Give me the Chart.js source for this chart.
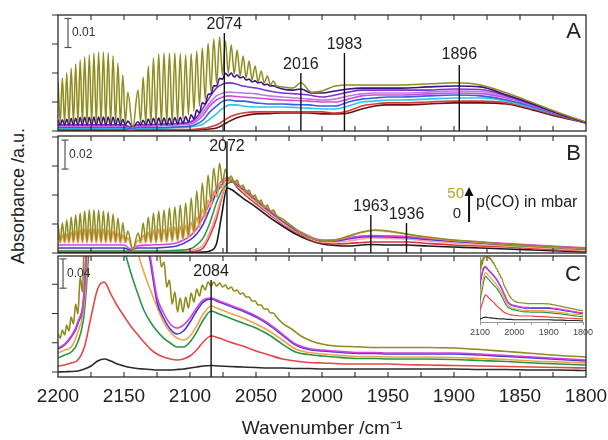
<!DOCTYPE html>
<html>
<head>
<meta charset="utf-8">
<title>IR spectra of adsorbed CO</title>
<script src="https://cdn.jsdelivr.net/npm/chart.js@4"></script>
<style>
  html, body { margin: 0; padding: 0; background: #fff; }
  body { width: 608px; height: 440px; position: relative; overflow: hidden; font-family: "Liberation Sans", Arial, sans-serif; }
  canvas { position: absolute; left: 0; }
  #ylabel { position: absolute; left: 18px; top: 196px; transform: translate(-50%, -50%) rotate(-90deg);
            font-size: 18px; color: #222; white-space: nowrap; }
</style>
</head>
<body>
<div id="ylabel">Absorbance /a.u.</div>
<canvas id="chartA" width="640" height="140" style="top:0px"></canvas>
<canvas id="chartB" width="640" height="130" style="top:130px"></canvas>
<canvas id="chartC" width="640" height="190" style="top:250px"></canvas>
<canvas id="inset" width="160" height="95" style="left:440px;top:250px"></canvas>
<script>
// all absorbance values are in 10^-3 units

// wavenumber grids (cm-1)
const wnA = [2200, 2195, 2190, 2185, 2180, 2175, 2170, 2165, 2160, 2155, 2150, 2145, 2140, 2130, 2120, 2110,
  2100, 2095, 2090, 2085, 2080, 2075, 2070, 2065, 2060, 2050, 2040, 2030, 2020, 2010, 2000, 1990, 1980,
  1970, 1960, 1950, 1940, 1920, 1900, 1880, 1860, 1840, 1820, 1800];
const wnB = [2200, 2190, 2180, 2170, 2160, 2150, 2145, 2140, 2130, 2120, 2110, 2100, 2095, 2090, 2085, 2080,
  2076, 2072, 2068, 2064, 2060, 2050, 2040, 2030, 2020, 2010, 2000, 1990, 1980, 1970, 1963, 1950, 1936,
  1920, 1900, 1880, 1860, 1840, 1820, 1800];
const wnC = [2200, 2195, 2190, 2185, 2180, 2175, 2170, 2165, 2160, 2155, 2150, 2145, 2140, 2135, 2130, 2125,
  2120, 2115, 2110, 2105, 2100, 2095, 2090, 2084, 2078, 2070, 2060, 2050, 2040, 2030, 2020, 2010, 2000,
  1990, 1980, 1970, 1960, 1950, 1940, 1920, 1900, 1880, 1860, 1840, 1820, 1800];
// gas phase CO lines (R branch, band centre, P branch), line then valley
const wnGas = [
  2199.9, 2198.3, 2196.7, 2195.0, 2193.4, 2191.7, 2190.0, 2188.3, 2186.6, 2184.9, 2183.2, 2181.5, 2179.8,
  2178.0, 2176.3, 2174.5, 2172.8, 2171.0, 2169.2, 2167.4, 2165.6, 2163.8, 2162.0, 2160.1, 2158.3, 2156.4,
  2154.6, 2152.7, 2150.9, 2149.0, 2147.1,
  2143.3,
  2139.4, 2137.4, 2135.5, 2133.5, 2131.6, 2129.6, 2127.7, 2125.7, 2123.7, 2121.7, 2119.7, 2117.6, 2115.6,
  2113.5, 2111.5, 2109.4, 2107.4, 2105.3, 2103.3, 2101.2, 2099.1, 2097.0, 2094.9, 2092.8, 2090.7, 2088.5,
  2086.3, 2084.2, 2082.0, 2079.8, 2077.6, 2075.4, 2073.2, 2071.0, 2068.8, 2066.5, 2064.3, 2062.0, 2059.8,
  2057.5, 2055.2, 2053.0, 2050.7, 2048.4, 2046.1, 2043.8, 2041.4, 2039.1, 2036.8, 2034.5];
const wnTail = [2030, 2022, 2016, 2008, 2000, 1990, 1980, 1970, 1960, 1950, 1940, 1920, 1900, 1880, 1860, 1840, 1820, 1800];

const xTickLabels = [2200, 2150, 2100, 2050, 2000, 1950, 1900, 1850, 1800];
const xTickMarks = [2175, 2150, 2125, 2100, 2075, 2050, 2025, 2000, 1975, 1950, 1925, 1900, 1875, 1850, 1825];
const insetTicks = [2100, 2050, 2000, 1950, 1900, 1850, 1800];
const yTicksA = [0, 10, 20, 30, 40];
const yTicksB = [0, 20, 40, 60, 80];
const yTicksC = [0, 40, 80, 120];

// ---- panel A ----
const aOliveGas = [
  16.9, 2.8, 18.3, 2.8, 20.0, 2.8, 21.7, 2.8, 23.1, 2.8, 24.5, 2.8, 25.5, 2.8, 26.2, 2.8, 26.9, 2.8, 27.2, 2.8,
  27.2, 2.8, 26.9, 2.8, 25.9, 2.8, 23.4, 2.8, 19.3, 2.8, 13.4,
  1.0,
  14.1, 2.8, 18.6, 2.8, 22.4, 2.8, 25.2, 2.8, 26.6, 2.8, 26.9, 2.8, 26.9, 3.1, 26.9, 3.4, 26.6, 4.1, 26.2, 5.5,
  26.6, 6.9, 27.6, 8.6, 28.6, 11.0, 30.3, 13.8, 31.7, 16.6, 32.4, 19.3, 31.0, 20.0, 29.7, 19.7, 27.9, 19.0,
  25.9, 18.3, 24.1, 17.6, 22.4, 16.9, 20.7, 16.6, 19.0, 15.9, 17.2, 15.5];
const aOliveTail = [15.2, 14.8, 16.6, 13.4, 13.8, 15.5, 15.9, 15.9, 15.9, 15.9, 15.9, 16.2, 16.6, 15.9, 13.1, 9.7, 6.2, 3.1];
const aNavyGas = [
  3.8, 2.1, 3.9, 2.1, 4.1, 2.1, 4.3, 2.1, 4.4, 2.1, 4.6, 2.1, 4.7, 2.1, 4.7, 2.1, 4.8, 2.1, 4.8, 2.1,
  4.8, 2.1, 4.8, 2.1, 4.7, 2.1, 4.4, 2.1, 4.0, 2.1, 3.4,
  1.4,
  3.2, 2.1, 3.7, 2.1, 4.1, 2.1, 4.4, 2.1, 4.5, 2.1, 4.5, 2.1, 4.5, 2.2, 4.6, 2.4, 4.7, 2.6, 5.0, 3.1,
  5.6, 4.1, 7.2, 6.2, 9.7, 9.3, 12.6, 12.8, 15.6, 15.5, 18.2, 17.9, 19.9, 19.0, 20.0, 18.6, 19.3, 18.3,
  18.7, 17.6, 17.9, 16.9, 17.3, 16.6, 16.8, 15.9, 16.1, 15.5, 15.6, 15.2];
const aNavyTail = [14.5, 14.1, 14.5, 13.1, 13.1, 13.8, 14.5, 14.8, 14.8, 14.8, 14.8, 15.2, 15.5, 15.2, 12.4, 9.3, 5.9, 2.9];
const aViolet = [2.1, 2.1, 2.1, 2.1, 2.1, 2.1, 2.1, 2.1, 2.1, 2.1, 2.1, 1.4, 2.1, 2.2, 2.4, 2.6, 3.1, 4.8, 7.9,
  11.7, 14.8, 16.2, 16.6, 16.2, 15.5, 14.8, 13.8, 13.1, 12.8, 12.4, 11.7, 12.4, 13.4, 14.1, 14.1, 14.1, 14.1,
  14.1, 14.5, 14.3, 12.1, 9.0, 5.9, 2.9];
const aLilac = [1.9, 1.9, 1.9, 1.9, 1.9, 1.9, 1.9, 1.9, 1.9, 1.9, 1.9, 1.4, 1.9, 2.0, 2.2, 2.4, 2.8, 4.1, 6.6,
  9.7, 12.1, 13.1, 13.4, 13.3, 13.1, 12.8, 12.1, 11.7, 11.4, 11.0, 10.7, 11.0, 12.1, 12.8, 13.1, 13.1, 13.1,
  13.4, 13.8, 13.6, 11.7, 8.8, 5.9, 2.9];
const aMagenta = [1.7, 1.7, 1.7, 1.7, 1.7, 1.7, 1.7, 1.7, 1.7, 1.7, 1.7, 1.2, 1.6, 1.7, 1.9, 2.1, 2.4, 3.4, 5.5,
  8.6, 10.7, 11.7, 12.1, 11.9, 11.7, 11.4, 11.0, 10.7, 10.5, 10.3, 10.0, 10.0, 11.0, 12.1, 12.4, 12.4, 12.4,
  12.8, 13.1, 12.9, 11.4, 8.6, 5.7, 2.9];
const aBlue = [1.2, 1.2, 1.2, 1.2, 1.2, 1.2, 1.2, 1.2, 1.2, 1.2, 1.2, 0.9, 1.2, 1.2, 1.2, 1.4, 1.7, 2.4, 3.8,
  6.6, 8.6, 10.3, 10.7, 10.3, 10.3, 9.7, 9.3, 9.3, 9.1, 9.0, 8.6, 8.6, 10.0, 11.0, 11.4, 11.7, 11.7,
  12.1, 12.4, 12.1, 10.7, 8.3, 5.5, 2.8];
const aCyan = [1.0, 1.0, 1.0, 1.0, 1.0, 1.0, 1.0, 1.0, 1.0, 1.0, 1.0, 0.7, 1.0, 1.0, 1.0, 1.2, 1.4, 1.7, 2.4,
  4.1, 5.9, 7.9, 9.0, 9.0, 8.6, 8.3, 8.3, 8.3, 8.1, 7.9, 7.6, 7.6, 8.6, 10.0, 10.3, 10.7, 10.7,
  11.0, 11.4, 11.4, 10.3, 7.9, 5.5, 2.8];
const aRed = [0.5, 0.5, 0.5, 0.5, 0.5, 0.5, 0.5, 0.5, 0.5, 0.5, 0.5, 0.3, 0.5, 0.5, 0.5, 0.5, 0.5, 0.7, 0.9,
  1.4, 2.1, 3.4, 4.8, 5.7, 6.2, 6.6, 6.6, 6.6, 6.6, 6.6, 6.6, 6.2, 6.9, 8.6, 9.3, 9.7, 9.7,
  10.0, 10.3, 10.3, 9.7, 7.6, 5.2, 2.8];
const aDark = [0.3, 0.3, 0.3, 0.3, 0.3, 0.3, 0.3, 0.3, 0.3, 0.3, 0.3, 0.3, 0.3, 0.3, 0.3, 0.3, 0.3, 0.3, 0.5,
  0.7, 1.0, 2.1, 3.4, 4.5, 5.2, 5.9, 6.0, 6.2, 6.2, 6.2, 5.9, 5.9, 6.2, 7.6, 8.6, 9.0, 9.0,
  9.3, 9.7, 9.7, 9.3, 7.2, 4.8, 2.8];
const bandsA = [2074, 2016, 1983, 1896];
const bandTopsA = [33.8, 20.0, 26.9, 22.8];

// ---- panel B ----
const bOliveGas = [
  19.3, 8.3, 20.7, 8.3, 22.8, 8.3, 24.8, 8.3, 26.2, 8.3, 27.6, 8.3, 29.0, 8.3, 29.7, 8.3, 29.7, 8.3, 29.7, 8.3,
  29.0, 8.3, 28.3, 8.3, 26.9, 8.3, 24.2, 8.3, 20.7, 8.3, 15.2,
  2.1,
  13.8, 8.3, 20.7, 8.3, 24.8, 8.3, 27.6, 8.3, 29.0, 8.6, 29.7, 9.0, 31.1, 9.3, 31.7, 9.7, 33.1, 10.4, 34.5, 12.4,
  38.0, 15.2, 42.8, 20.7, 48.3, 27.6, 53.8, 35.9, 58.7, 42.8, 62.1, 48.3, 58.0, 50.4, 53.1, 48.3, 50.4, 44.9,
  46.9, 41.4, 43.5, 38.0, 40.0, 34.5, 36.6, 31.1, 33.1, 28.3, 29.7, 25.5];
const bOliveTail = [23.5, 17.9, 13.8, 10.4, 8.3, 9.0, 11.7, 14.5, 15.9, 15.2, 13.8, 11.0, 9.0, 7.6, 6.2, 5.2, 4.1, 3.1];
const bOrangeGas = [
  11.7, 6.9, 12.4, 6.9, 13.1, 6.9, 14.5, 6.9, 15.2, 6.9, 15.9, 6.9, 16.6, 6.9, 16.6, 6.9, 16.6, 6.9, 16.6, 6.9,
  16.6, 6.9, 15.9, 6.9, 15.2, 6.9, 13.8, 6.9, 12.4, 6.9, 10.4,
  2.1,
  9.0, 6.9, 12.4, 6.9, 14.5, 6.9, 15.9, 6.9, 16.6, 7.2, 16.6, 7.6, 17.3, 7.9, 17.9, 8.3, 18.6, 9.0, 19.3, 10.4,
  21.4, 13.1, 24.8, 17.9, 30.4, 24.2, 36.6, 31.7, 42.8, 38.6, 48.3, 44.2, 51.1, 49.0, 51.1, 48.3, 49.0, 45.5,
  45.5, 42.1, 42.1, 38.6, 38.6, 35.2, 35.2, 31.7, 31.7, 29.0, 28.3, 26.2];
const bOrangeTail = [22.8, 17.9, 13.8, 10.4, 8.3, 9.0, 11.4, 14.1, 15.5, 14.8, 13.5, 10.7, 8.6, 7.2, 5.9, 4.8, 3.8, 2.8];
const bMagenta = [5.5, 5.5, 5.5, 5.5, 5.5, 5.5, 2.8, 4.8, 5.5, 5.9, 6.9, 11.7, 16.6, 24.8, 34.5, 44.2, 49.7, 51.8,
  50.4, 47.6, 44.9, 37.3, 29.7, 22.8, 16.6, 11.7, 9.0, 9.0, 10.4, 11.7, 12.1, 11.7, 11.4, 10.0, 8.6, 7.6, 6.6,
  5.5, 4.5, 3.5];
const bBlue = [3.4, 3.4, 3.4, 3.4, 3.4, 3.4, 2.1, 3.4, 3.4, 3.8, 4.8, 9.0, 13.1, 20.0, 30.4, 41.4, 46.9, 50.4,
  49.7, 46.9, 44.2, 36.6, 29.0, 22.1, 15.9, 11.0, 8.3, 8.3, 9.7, 11.0, 11.4, 11.0, 10.7, 9.3, 7.9, 6.9, 5.9,
  4.8, 3.8, 2.8];
const bGreen = [1.4, 1.4, 1.4, 1.4, 1.4, 1.4, 1.4, 1.4, 1.4, 1.4, 1.9, 2.8, 5.5, 10.4, 20.7, 34.5, 42.8, 47.6,
  49.0, 46.9, 44.2, 36.6, 29.0, 22.1, 15.9, 11.0, 8.3, 9.0, 10.4, 11.4, 11.7, 11.7, 11.0, 9.7, 8.3, 6.9, 5.5,
  4.5, 3.5, 2.4];
const bPink = [1.7, 1.7, 1.7, 1.7, 1.7, 1.7, 1.7, 1.7, 1.7, 1.7, 1.7, 1.9, 2.8, 5.5, 14.5, 26.9, 39.3, 48.3,
  49.0, 46.2, 42.8, 35.2, 27.6, 20.7, 15.2, 10.4, 7.6, 7.6, 8.3, 9.7, 10.4, 10.0, 9.7, 8.3, 6.9, 5.9, 4.8,
  3.8, 2.8, 1.7];
const bRed = [1.2, 1.2, 1.2, 1.2, 1.2, 1.2, 1.2, 1.2, 1.2, 1.2, 1.2, 1.2, 1.4, 3.4, 11.7, 23.5, 38.0, 48.3,
  49.0, 44.9, 41.4, 33.8, 26.9, 20.0, 14.5, 9.7, 6.9, 6.2, 6.6, 7.2, 7.6, 7.6, 7.6, 6.6, 5.5, 4.8, 4.1,
  3.1, 2.1, 1.4];
const bBlack = [0.5, 0.5, 0.5, 0.5, 0.5, 0.5, 0.5, 0.5, 0.5, 0.5, 0.5, 0.5, 0.5, 0.6, 1.4, 6.2, 26.2, 44.8,
  43.5, 40.7, 37.9, 31.7, 24.8, 18.6, 13.1, 9.0, 6.2, 5.2, 4.8, 5.5, 5.9, 5.5, 5.5, 4.8, 4.1, 3.4, 2.8,
  2.1, 1.4, 0.7];
const bandsB = [2072, 1963, 1936];
const bandTopsB = [77, 26.2, 20.7];

// ---- panel C ----
const cOliveGas = [
  51.9, 46.4, 57.4, 50.5, 64.2, 56.0, 75.1, 65.6, 92.9, 79.2, 129.8, 109.3, 191.2, 163.9, 300.5, 259.5,
  382.5, 341.5, 450.8, 409.8, 478.1, 437.1, 478.1, 437.1, 464.4, 423.5, 450.8, 409.8, 437.1, 396.2, 409.8,
  355.2,
  382.5, 341.5, 355.2, 307.4, 321.0, 273.2, 232.2, 191.2, 177.6, 143.4, 150.3, 116.1, 125.7, 92.9, 109.3, 82.0,
  101.1, 82.0, 102.5, 87.4, 107.9, 95.6, 113.4, 103.8, 118.8, 112.0, 122.9, 117.5, 122.9, 117.5, 121.6, 116.1,
  118.8, 113.4, 116.1, 110.6, 112.0, 106.5, 107.9, 102.5, 102.5, 97.0, 97.0, 91.5, 91.5, 86.1, 86.1, 80.6,
  80.6, 75.1];
const cOliveTail = [66.9, 57.4, 49.2, 42.4, 38.2, 35.5, 34.8, 34.2, 33.5, 33.5, 33.5, 33.5, 32.8, 30.7, 28.0, 25.3, 22.5, 20.5];
const cMagenta = [32.8, 38.2, 49.2, 68.3, 116.1, 341.5, 409.8, 409.8, 382.5, 355.2, 327.8, 286.9, 245.9, 204.9,
  157.1, 102.5, 80.6, 65.6, 60.1, 64.2, 73.8, 87.4, 98.4, 101.1, 97.0, 91.5, 84.7, 76.5, 65.6, 51.9, 38.2,
  32.1, 30.1, 28.7, 27.3, 26.6, 26.6, 26.0, 26.0, 26.0, 26.0, 24.6, 22.5, 20.5, 18.4, 16.4];
const cBlue = [31.4, 36.9, 47.8, 65.6, 113.4, 338.8, 407.1, 407.1, 379.7, 352.4, 325.1, 284.1, 243.1, 202.2,
  150.3, 95.6, 73.8, 58.7, 51.9, 56.0, 68.3, 83.3, 95.6, 99.7, 95.6, 90.2, 83.3, 75.1, 64.2, 50.5, 36.9,
  30.7, 28.7, 27.3, 26.0, 25.3, 25.3, 24.6, 24.6, 24.6, 24.6, 23.2, 21.2, 19.1, 17.1, 15.0];
const cOrange = [26.0, 30.1, 34.2, 54.6, 95.6, 245.9, 300.5, 314.2, 300.5, 273.2, 245.9, 211.7, 166.7, 136.6,
  112.0, 88.8, 68.3, 54.6, 46.4, 43.7, 49.2, 62.8, 79.2, 90.2, 86.1, 80.6, 73.8, 65.6, 56.0, 43.7, 31.4,
  26.6, 24.6, 23.2, 21.9, 21.2, 21.2, 20.5, 20.5, 20.5, 19.8, 18.4, 17.1, 15.0, 13.7, 12.3];
const cGreen = [19.1, 23.2, 27.3, 41.0, 82.0, 204.9, 259.5, 273.2, 259.5, 225.4, 170.8, 136.6, 109.3, 84.7,
  68.3, 56.0, 46.4, 39.6, 34.2, 34.2, 41.0, 54.6, 71.0, 83.3, 79.2, 73.8, 66.9, 60.1, 50.5, 38.2, 27.3,
  23.9, 21.9, 20.5, 19.1, 18.4, 18.4, 17.8, 17.8, 17.8, 17.1, 15.7, 14.3, 12.3, 10.9, 9.6];
const cRed = [8.2, 9.6, 12.3, 16.4, 34.2, 75.1, 113.4, 122.9, 106.5, 90.2, 76.5, 62.8, 51.9, 41.0, 31.4, 24.6,
  20.5, 17.8, 16.4, 17.8, 21.9, 30.1, 41.0, 49.2, 46.4, 41.0, 35.5, 28.7, 23.2, 17.8, 15.0, 13.0, 12.3,
  11.6, 10.9, 10.9, 10.9, 10.9, 10.2, 9.6, 8.9, 8.2, 7.5, 6.8, 6.1, 5.5];
const cBlack = [0, 0.4, 0.7, 1.4, 4.1, 8.2, 15.0, 17.8, 15.0, 10.9, 8.2, 6.1, 4.8, 4.1, 3.4, 2.7, 2.7, 2.7,
  3.4, 4.1, 5.5, 6.8, 8.2, 8.9, 8.2, 7.5, 6.8, 6.1, 5.5, 5.5, 4.8, 4.8, 4.1, 4.1, 4.1, 4.1, 4.1, 4.1, 4.1,
  4.1, 4.1, 3.4, 3.4, 2.7, 2.7, 2.0];
const bandsC = [2084];
const bandTopsC = [125.7];

// ---------------------------------------------------------------
const FONT = '"Liberation Sans", Arial, Helvetica, sans-serif';
Chart.defaults.font.family = FONT;
Chart.defaults.color = '#222';

const OLIVE = '#8f8b1c';
const pts = (wn, vals) => wn.map((x, i) => ({ x, y: vals[i] }));
const gasPts = (gas, tail) => pts(wnGas, gas).concat(pts(wnTail, tail));

function trace(label, color, data, width) {
  return { label, data, borderColor: color, backgroundColor: color, borderWidth: width || 1.6,
    pointRadius: 0, cubicInterpolationMode: 'monotone', fill: false };
}
function bandLines(wns, tops, base) {
  return wns.map((w, i) => ({ label: 'band ' + w, data: [{ x: w, y: base }, { x: w, y: tops[i] }],
    borderColor: '#111', borderWidth: 1.4, pointRadius: 0 }));
}
function scaleBar(b) {
  return { label: 'scale ' + b.text, data: [{ x: b.wn, y: b.from }, { x: b.wn, y: b.to }],
    borderColor: '#555', borderWidth: 1.2, pointStyle: 'line', pointRadius: 3.5,
    pointBorderColor: '#555', pointBorderWidth: 1.2 };
}
function bandLabels(wns, tops, shifts) {
  return wns.map((w, i) => ({ text: String(w), x: w, y: tops[i], dy: shifts[i], font: '16px ' + FONT }));
}

function frame(yTicks) {
  return {
    id: 'frame',
    afterDatasetsDraw(chart) {
      const { ctx, chartArea: a, scales: { x, y } } = chart;
      ctx.save();
      ctx.strokeStyle = '#2a2a2a';
      ctx.lineWidth = 1.3;
      ctx.strokeRect(a.left, a.top, a.right - a.left, a.bottom - a.top);
      ctx.lineWidth = 1.1;
      ctx.beginPath();
      xTickMarks.forEach(w => {
        const px = x.getPixelForValue(w);
        ctx.moveTo(px, a.top); ctx.lineTo(px, a.top + 5);
        ctx.moveTo(px, a.bottom); ctx.lineTo(px, a.bottom - 5);
      });
      yTicks.forEach(v => {
        const py = y.getPixelForValue(v);
        ctx.moveTo(a.left - 6, py); ctx.lineTo(a.left, py);
      });
      ctx.stroke();
      ctx.restore();
    }
  };
}

function notes(items, arrows) {
  return {
    id: 'notes',
    afterDatasetsDraw(chart) {
      const { ctx, scales: { x, y } } = chart;
      ctx.save();
      items.forEach(t => {
        ctx.font = t.font;
        ctx.fillStyle = t.color || '#222';
        ctx.textAlign = t.align || 'center';
        ctx.textBaseline = t.base || 'alphabetic';
        ctx.fillText(t.text, x.getPixelForValue(t.x) + (t.dx || 0), y.getPixelForValue(t.y) + (t.dy || 0));
      });
      (arrows || []).forEach(ar => {
        const px = x.getPixelForValue(ar.x);
        const y0 = y.getPixelForValue(ar.from), y1 = y.getPixelForValue(ar.to);
        ctx.strokeStyle = '#111';
        ctx.fillStyle = '#111';
        ctx.lineWidth = 2;
        ctx.beginPath(); ctx.moveTo(px, y0); ctx.lineTo(px, y1 + 6); ctx.stroke();
        ctx.beginPath(); ctx.moveTo(px, y1); ctx.lineTo(px - 4.5, y1 + 9); ctx.lineTo(px + 4.5, y1 + 9);
        ctx.closePath(); ctx.fill();
      });
      ctx.restore();
    }
  };
}

function baseOptions(ymin, ymax, padding, xAxis) {
  return {
    responsive: false,
    animation: false,
    events: [],
    layout: { padding },
    plugins: { legend: { display: false }, tooltip: { enabled: false } },
    scales: {
      x: xAxis || { type: 'linear', min: 1800, max: 2200, reverse: true, display: false },
      y: { type: 'linear', min: ymin, max: ymax, display: false }
    }
  };
}

// ---- A ----
const barA = { wn: 2192.4, from: 28.8, to: 38.8, text: '0.01' };
new Chart(document.getElementById('chartA'), {
  type: 'line',
  data: {
    datasets: [
      ...bandLines(bandsA, bandTopsA, 0),
      scaleBar(barA),
      trace('50 mbar', OLIVE, gasPts(aOliveGas, aOliveTail), 1.5),
      trace('navy', '#3b1283', gasPts(aNavyGas, aNavyTail)),
      trace('violet', '#7d33cc', pts(wnA, aViolet)),
      trace('lilac', '#b77ce8', pts(wnA, aLilac)),
      trace('magenta', '#d24bd8', pts(wnA, aMagenta)),
      trace('blue', '#3b5be0', pts(wnA, aBlue)),
      trace('cyan', '#2cc6e8', pts(wnA, aCyan)),
      trace('red', '#d93a3a', pts(wnA, aRed)),
      trace('0 mbar', '#6a1212', pts(wnA, aDark))
    ]
  },
  options: baseOptions(0, 40, { top: 15, bottom: 9, left: 58, right: 54 }),
  plugins: [
    frame(yTicksA),
    notes([
      ...bandLabels(bandsA, bandTopsA, [-4, -4, -4, -6]),
      { text: 'A', x: 1803.8, y: 34.1, align: 'right', base: 'middle', font: '22px ' + FONT },
      { text: barA.text, x: barA.wn, y: (barA.from + barA.to) / 2, dx: 4, align: 'left', base: 'middle', color: '#333', font: '12px ' + FONT }
    ])
  ]
});

// ---- B ----
const barB = { wn: 2194.7, from: 57.9, to: 77.9, text: '0.02' };
new Chart(document.getElementById('chartB'), {
  type: 'line',
  data: {
    datasets: [
      ...bandLines(bandsB, bandTopsB, 0),
      scaleBar(barB),
      trace('50 mbar', OLIVE, gasPts(bOliveGas, bOliveTail), 1.5),
      trace('orange', '#f09a58', gasPts(bOrangeGas, bOrangeTail)),
      trace('magenta', '#e03ce0', pts(wnB, bMagenta)),
      trace('blue', '#3a3ad8', pts(wnB, bBlue)),
      trace('green', '#2d9a48', pts(wnB, bGreen)),
      trace('pink', '#f7a0a8', pts(wnB, bPink)),
      trace('red', '#e03434', pts(wnB, bRed)),
      trace('0 mbar', '#1a1a1a', pts(wnB, bBlack))
    ]
  },
  options: baseOptions(0, 80.7, { top: 6, bottom: 7, left: 58, right: 54 }),
  plugins: [
    frame(yTicksB),
    notes([
      ...bandLabels(bandsB, bandTopsB, [10, -4, -4]),
      { text: 'B', x: 1803.8, y: 68.3, align: 'right', base: 'middle', font: '22px ' + FONT },
      { text: barB.text, x: barB.wn, y: (barB.from + barB.to) / 2, dx: 4, align: 'left', base: 'middle', color: '#333', font: '12px ' + FONT },
      { text: '50', x: 1892.4, y: 40.7, align: 'right', base: 'middle', color: '#b0a428', font: '15px ' + FONT },
      { text: '0', x: 1894.7, y: 26.9, align: 'right', base: 'middle', font: '15px ' + FONT },
      { text: 'p(CO) in mbar', x: 1883.3, y: 34.5, align: 'left', base: 'middle', font: '16px ' + FONT }
    ], [{ x: 1888.6, from: 21.4, to: 45.5 }])
  ]
});

// ---- C ----
const barC = { wn: 2196.2, from: 114.5, to: 154.5, text: '0.04' };
const cDatasets = (w) => [
  trace('50 mbar', OLIVE, gasPts(cOliveGas, cOliveTail), w),
  trace('magenta', '#d83ddc', pts(wnC, cMagenta), w),
  trace('blue', '#3c3cd8', pts(wnC, cBlue), w),
  trace('orange', '#f0a24a', pts(wnC, cOrange), w),
  trace('green', '#2a9440', pts(wnC, cGreen), w),
  trace('red', '#e24646', pts(wnC, cRed), w),
  trace('0 mbar', '#2a2a2a', pts(wnC, cBlack), w)
];
new Chart(document.getElementById('chartC'), {
  type: 'line',
  data: { datasets: [...bandLines(bandsC, bandTopsC, -6.8), scaleBar(barC), ...cDatasets(1.6)] },
  options: baseOptions(-6.8, 158.5, { top: 6, bottom: 0, left: 58, right: 54 }, {
    type: 'linear', min: 1800, max: 2200, reverse: true,
    afterBuildTicks: s => { s.ticks = xTickLabels.map(v => ({ value: v })); },
    ticks: { font: { size: 19 }, color: '#222', padding: 8, maxRotation: 0, autoSkip: false, callback: v => String(v) },
    grid: { display: false, drawTicks: false },
    border: { display: false },
    title: { display: true, text: 'Wavenumber /cm\u207B\u00B9', font: { size: 19 }, color: '#222', padding: 0 },
    afterFit: s => { s.height = 63; }
  }),
  plugins: [
    frame(yTicksC),
    notes([
      ...bandLabels(bandsC, bandTopsC, [-4]),
      { text: 'C', x: 1803.8, y: 132.5, align: 'right', base: 'middle', font: '22px ' + FONT },
      { text: barC.text, x: barC.wn, y: (barC.from + barC.to) / 2, dx: 4, align: 'left', base: 'middle', color: '#333', font: '12px ' + FONT }
    ])
  ]
});

// ---- inset of C, 2100-1800 ----
new Chart(document.getElementById('inset'), {
  type: 'line',
  data: { datasets: cDatasets(1.2) },
  options: {
    responsive: false,
    animation: false,
    events: [],
    layout: { padding: { top: 7, bottom: 0, left: 40, right: 17 } },
    plugins: { legend: { display: false }, tooltip: { enabled: false } },
    scales: {
      x: {
        type: 'linear', min: 1800, max: 2100, reverse: true,
        afterBuildTicks: s => { s.ticks = insetTicks.map(v => ({ value: v })); },
        ticks: { font: { size: 9 }, color: '#444', padding: 2, maxRotation: 0, autoSkip: false,
                 callback: v => (v % 100 === 0 ? String(v) : '') },
        grid: { drawOnChartArea: false, drawTicks: true, tickLength: 3, color: '#999' },
        border: { display: true, color: '#999' },
        afterFit: s => { s.height = 23; }
      },
      y: {
        type: 'linear', min: 0, max: 118, display: true,
        ticks: { display: false }, grid: { display: false },
        border: { display: true, color: '#999' },
        afterFit: s => { s.width = 0; }
      }
    }
  }
});
</script>
</body>
</html>
